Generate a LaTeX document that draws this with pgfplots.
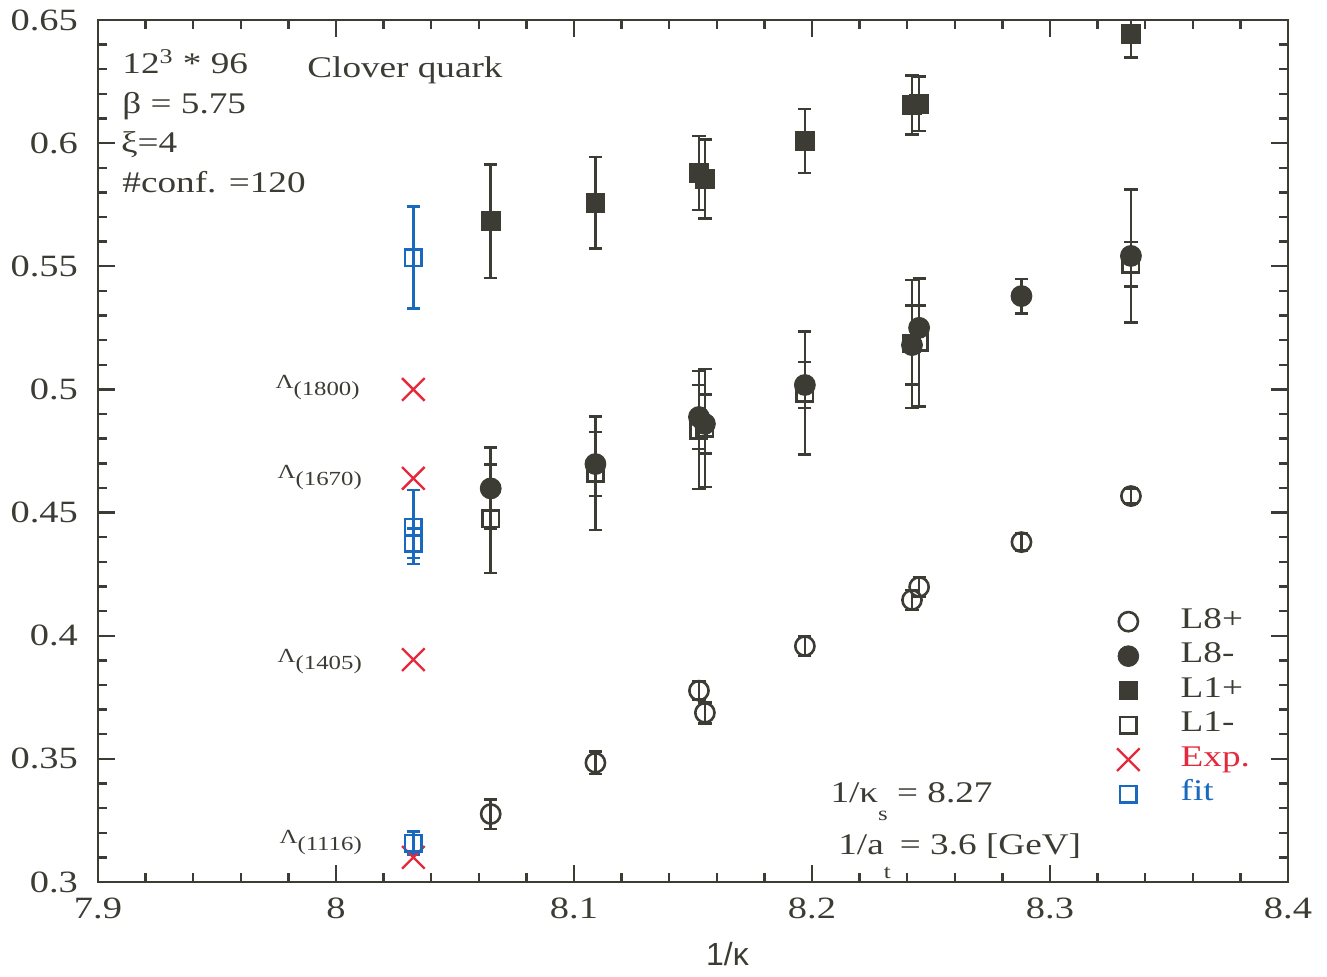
\documentclass[border=0pt]{standalone}
\usepackage{fontspec}
\setmainfont{Liberation Serif}[FakeStretch=1.24]
\newfontfamily\sansfont{Liberation Sans}
\usepackage{pgfplots}
\usepackage{pgfplotstable}
\pgfplotsset{compat=1.18}

\definecolor{dk}{RGB}{60,60,52}
\definecolor{expred}{RGB}{230,40,60}
\definecolor{fitblue}{RGB}{25,105,190}
\newcommand{\fs}{\fontsize{15}{18}\selectfont}
\newcommand{\fsm}{\fontsize{10}{12}\selectfont}

% x = 1/kappa, y = mass, e = error
\pgfplotstableread{
x y e
8.065 0.3276 0.006
8.109 0.3484 0.0045
8.1525 0.3777 0.0037
8.155 0.3687 0.0043
8.197 0.3958 0.004
8.242 0.4145 0.004
8.245 0.4198 0.004
8.288 0.4380 0.0035
8.334 0.4567 0.003
}\LEightp
\pgfplotstableread{
x y e
8.065 0.4598 0.0165
8.109 0.4697 0.013
8.1525 0.4888 0.013
8.155 0.4860 0.012
8.197 0.5018 0.0093
8.242 0.5180 0.016
8.245 0.5250 0.009
8.288 0.5379 0.007
8.334 0.5542 0.027
}\LEightm
\pgfplotstableread{
x y e
8.065 0.5683 0.023
8.109 0.5758 0.0185
8.1525 0.5879 0.015
8.155 0.5854 0.016
8.197 0.6009 0.013
8.242 0.6155 0.012
8.245 0.6160 0.011
8.334 0.6443 0.0095
}\LOnep
\pgfplotstableread{
x y e
8.065 0.4474 0.022
8.109 0.4660 0.023
8.1525 0.4835 0.024
8.155 0.4843 0.024
8.197 0.4985 0.025
8.242 0.5185 0.026
8.245 0.5190 0.026
8.334 0.5509 0.009
}\LOnem
\pgfplotstableread{
x y
8.0325 0.5000
8.0325 0.4639
8.0325 0.3903
8.0325 0.3100
}\Exp
\pgfplotstableread{
x y e
8.0325 0.5535 0.0207
8.0325 0.4441 0.0150
8.0325 0.4376 0.0060
8.0325 0.3158 0.0047
}\Fit

\pgfplotsset{
  eb/.style={error bars/.cd, y dir=both, y explicit,
    error bar style={line width=1.3pt, color=#1},
    error mark options={rotate=90, mark size=3.3pt, line width=1.3pt, color=#1}},
}

\begin{document}
\begin{tikzpicture}
\begin{axis}[
  scale only axis, width=595pt, height=431pt,
  xmin=7.9, xmax=8.4, ymin=0.3, ymax=0.65,
  xtick={7.9,8,8.1,8.2,8.3,8.4},
  ytick={0.3,0.35,0.4,0.45,0.5,0.55,0.6,0.65},
  minor x tick num=4, minor y tick num=4,
  ticklabel pos=left, tick pos=both, tick align=inside,
  major tick length=8.5pt, minor tick length=4.5pt,
  axis line style={line width=1.3pt, dk},
  every tick/.style={line width=1.2pt, dk},
  /pgf/number format/assume math mode=true,
  tick label style={font=\fontsize{15.5}{18}\selectfont, text=dk},
  yticklabel style={xshift=-6.5pt},
  xticklabel style={yshift=-4.5pt},
  xlabel={\sansfont 1/κ},
  xlabel style={at={(axis description cs:0.529,-0.0974)}, anchor=base,
    font=\fontsize{16}{19}\selectfont, text=dk},
  legend cell align=left,
  legend style={draw=none, fill=none, at={(0.856,0.3225)}, anchor=north west,
    inner sep=0pt, row sep=0pt, font=\fs, text=dk,
    nodes={inner sep=0pt, text height=12pt, text depth=5.25pt},
    /tikz/every odd column/.append style={column sep=20.5pt}},
]
% L1- first so the filled circles lie on top
\addplot[forget plot, only marks, dk, mark=square, mark size=4.1pt,
  mark options={line width=1.3pt}, eb=dk] table[x=x, y=y, y error=e] {\LOnem};
\addplot[forget plot, only marks, dk, mark=o, mark size=4.8pt,
  mark options={line width=1.3pt}, eb=dk] table[x=x, y=y, y error=e] {\LEightp};
\addplot[forget plot, only marks, dk, mark=*, mark size=5.2pt,
  mark options={line width=0.5pt, fill=dk}, eb=dk] table[x=x, y=y, y error=e] {\LEightm};
\addplot[forget plot, only marks, dk, mark=square*, mark size=4.6pt,
  mark options={line width=0.6pt, fill=dk}, eb=dk] table[x=x, y=y, y error=e] {\LOnep};
\addplot[forget plot, only marks, expred, mark=x, mark size=8pt,
  mark options={line width=1.2pt}] table[x=x, y=y] {\Exp};
\addplot[forget plot, only marks, fitblue, mark=square, mark size=4.1pt,
  mark options={line width=1.3pt}, eb=fitblue] table[x=x, y=y, y error=e] {\Fit};

\addlegendimage{only marks, dk, mark=o, mark size=4.8pt, mark options={line width=1.3pt}}
\addlegendentry{L8+}
\addlegendimage{only marks, dk, mark=*, mark size=5.2pt, mark options={fill=dk}}
\addlegendentry{L8-}
\addlegendimage{only marks, dk, mark=square*, mark size=4.6pt, mark options={fill=dk}}
\addlegendentry{L1+}
\addlegendimage{only marks, dk, mark=square, mark size=4.1pt, mark options={line width=1.3pt}}
\addlegendentry{L1-}
\addlegendimage{only marks, expred, mark=x, mark size=8pt, mark options={line width=1.2pt}}
\addlegendentry{\textcolor{expred}{Exp.}}
\addlegendimage{only marks, fitblue, mark=square, mark size=4.1pt, mark options={line width=1.3pt}}
\addlegendentry{\textcolor{fitblue}{fit}}

\begin{scope}[every node/.style={text=dk, font=\fs, inner sep=0pt}]
\node[anchor=base west] at (axis cs:7.9101,0.6281) {12\textsuperscript{3} * 96};
\node[anchor=base west] at (axis cs:7.9101,0.6122) {β = 5.75};
\node[anchor=base west] at (axis cs:7.9095,0.5960) {ξ=4};
\node[anchor=base west] at (axis cs:7.9101,0.5801) {\#conf. =120};
\node[anchor=base west] at (axis cs:7.9878,0.6268) {Clover quark};
\node[anchor=base west] at (axis cs:8.2076,0.3321) {1/κ\raisebox{-9pt}{\fontsize{10}{12}\selectfont s} = 8.27};
\node[anchor=base west] at (axis cs:8.2109,0.3110) {1/a\raisebox{-12pt}{\fontsize{10}{12}\selectfont t} = 3.6 [GeV]};
\node[anchor=base east, font=\fsm] at (axis cs:8.0101,0.5002) {Λ\raisebox{-3.5pt}{(1800)}};
\node[anchor=base east, font=\fsm] at (axis cs:8.0110,0.4640) {Λ\raisebox{-3.5pt}{(1670)}};
\node[anchor=base east, font=\fsm] at (axis cs:8.0110,0.3893) {Λ\raisebox{-3.5pt}{(1405)}};
\node[anchor=base east, font=\fsm] at (axis cs:8.0110,0.3158) {Λ\raisebox{-3.5pt}{(1116)}};
\end{scope}
\end{axis}
\path ([shift={(-49pt,-47pt)}]current axis.south west) rectangle ([shift={(19.5pt,10pt)}]current axis.north east);
\end{tikzpicture}
\end{document}
